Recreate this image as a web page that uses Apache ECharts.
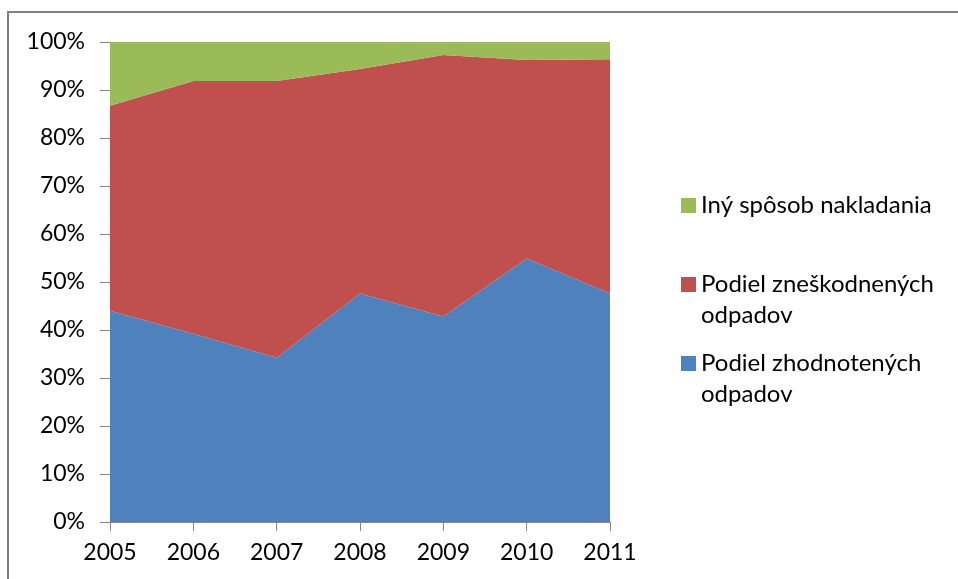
<!DOCTYPE html>
<html>
<head>
<meta charset="utf-8">
<script src="https://cdn.jsdelivr.net/npm/echarts@6/dist/echarts.min.js"></script>
<style>
	html, body { margin: 0; padding: 0; background: #fff; }
	#main { width: 958px; height: 579px; }
</style>
</head>
<body>
<div id="main"></div>
<script>
//数据
var years = ['2005', '2006', '2007', '2008', '2009', '2010', '2011'];
var zhodnotene = [44.0, 39.2, 34.2, 47.6, 42.8, 54.9, 47.6];
var zneskodnene = [42.7, 52.7, 57.7, 46.8, 54.5, 41.35, 48.8];
var iny = [13.3, 8.1, 8.1, 5.6, 2.7, 3.75, 3.6];
var names = ['Podiel zhodnotených odpadov', 'Podiel zneškodnených odpadov', 'Iný spôsob nakladania'];
var colors = ['#4F81BD', '#C0504D', '#9BBB59'];

var font = 'Lato, "Liberation Sans", sans-serif';
var axisColor = '#868686';

var myChart = echarts.init(document.getElementById('main'));

function areaSeries(name, data, color) {
	return {
		name: name,
		type: 'line',
		stack: 'total',
		data: data,
		symbol: 'none',
		color: color,
		lineStyle: { width: 0 },
		areaStyle: { color: color, opacity: 1 }
	}
}

// 图例: 两行的名字前加一个空行, 让方块对准第一行
function legendFor(name, top, twoLines) {
	return {
		orient: 'vertical',
		left: 681,
		top: top,
		padding: 0,
		data: [name],
		icon: 'rect',
		itemWidth: 15,
		itemHeight: 15,
		itemGap: 6,
		selectedMode: false,
		formatter: function (n) {
			if (!twoLines) return n;
			var p = n.split(' ');
			return '\n' + p.slice(0, 2).join(' ') + '\n' + p.slice(2).join(' ');
		},
		textStyle: {
			fontFamily: font,
			fontSize: 24,
			color: '#000',
			lineHeight: 31
		}
	}
}

myChart.setOption({
	animation: false,
	grid: { left: 110, right: 348, top: 42, bottom: 57 },
	legend: [
		legendFor(names[2], 190, false),
		legendFor(names[1], 238, true),
		legendFor(names[0], 317, true)
	],
	xAxis: {
		type: 'category',
		data: years,
		boundaryGap: false,
		axisLine: { lineStyle: { color: axisColor, width: 1 } },
		axisTick: { show: true, length: 9, lineStyle: { color: axisColor } },
		axisLabel: { fontFamily: font, fontSize: 23, color: '#000', margin: 19 }
	},
	yAxis: {
		type: 'value',
		min: 0,
		max: 100,
		interval: 10,
		splitLine: { show: false },
		axisLine: { show: true, lineStyle: { color: axisColor, width: 1 } },
		axisTick: { show: true, length: 10, lineStyle: { color: axisColor } },
		axisLabel: {
			fontFamily: font, fontSize: 23, color: '#000', margin: 25,
			formatter: '{value}%'
		}
	},
	graphic: [{
		type: 'rect',
		shape: { x: 8, y: 12, width: 1200, height: 1200 },
		style: { fill: 'none', stroke: '#808080', lineWidth: 2 },
		silent: true
	}],
	series: [
		areaSeries(names[0], zhodnotene, colors[0]),
		areaSeries(names[1], zneskodnene, colors[1]),
		areaSeries(names[2], iny, colors[2])
	]
})
</script>
</body>
</html>
